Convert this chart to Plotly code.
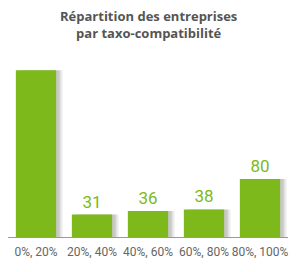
import plotly.graph_objects as go

categories = ["0%, 20%", "20%, 40%", "40%, 60%", "60%, 80%", "80%, 100%"]
values = [230, 31, 36, 38, 80]
labels = ["", "31", "36", "38", "80"]

green = "#7db91a"
narrow = "Liberation Sans Narrow, Roboto, sans-serif"

fig = go.Figure()
# soft shadow behind bars
for dx, op in [(0.06, 0.10), (0.09, 0.08), (0.12, 0.05)]:
    fig.add_trace(go.Bar(
        x=categories, y=values, marker=dict(color="rgba(0,0,0,%s)" % op, line=dict(width=0)),
        width=0.72, offset=-0.36 + dx, hoverinfo="skip", showlegend=False,
    ))
fig.add_trace(go.Bar(
    x=categories, y=values, text=labels, textposition="outside",
    textfont=dict(family=narrow, size=17, color=green),
    marker=dict(color=green, line=dict(width=0)),
    width=0.72, offset=-0.36, cliponaxis=False, showlegend=False,
))

fig.add_annotation(
    text="<b>Répartition des entreprises<br>par taxo-compatibilité</b>",
    xref="paper", yref="paper", x=0.5, y=(237 - 24) / 177,
    xanchor="center", yanchor="middle", showarrow=False,
    font=dict(family="Open Sans", size=13, color="#555555"),
)

fig.update_layout(
    width=300, height=272,
    margin=dict(l=8, r=12, t=60, b=35, autoexpand=False),
    paper_bgcolor="white", plot_bgcolor="white",
    barmode="overlay",
    xaxis=dict(
        showgrid=False, showline=True, linecolor="#999999", linewidth=1,
        ticks="", tickangle=0, automargin=False, ticklabelstandoff=4,
        tickfont=dict(family=narrow, size=12, color="#666666"),
    ),
    yaxis=dict(visible=False, range=[0, 244]),
)

fig.write_html("out.html")
